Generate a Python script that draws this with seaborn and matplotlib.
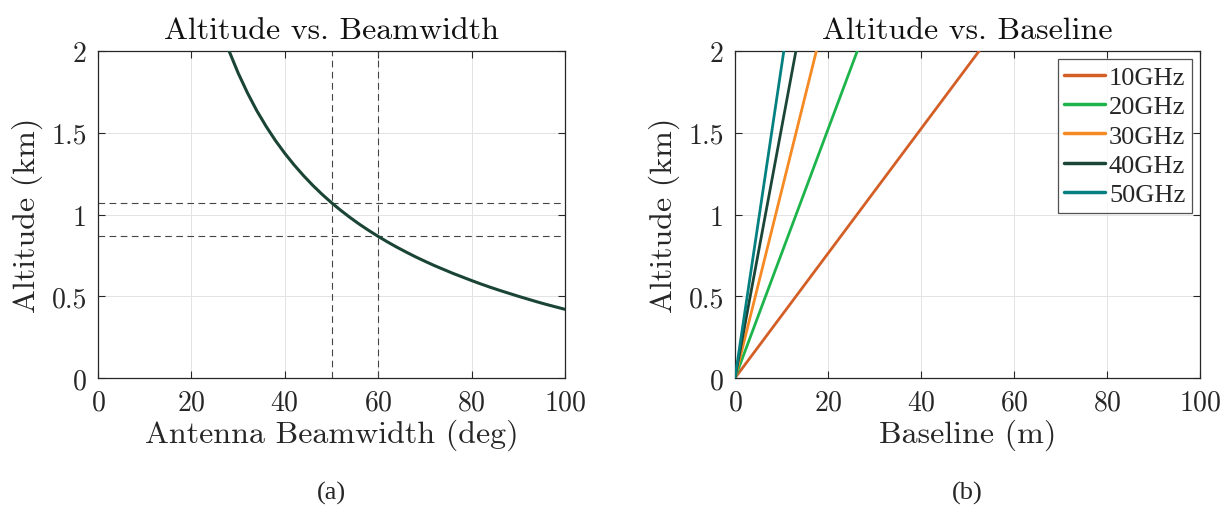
import matplotlib
matplotlib.use("Agg")
import matplotlib.pyplot as plt
import seaborn as sns
import pandas as pd

# Panel (a): altitude against antenna beamwidth
beamwidth_deg = [28, 30, 32, 34, 36, 38, 40, 42, 44, 46, 48, 50, 52, 54, 56, 58, 60,
                 62, 64, 66, 68, 70, 72, 74, 76, 78, 80, 82, 84, 86, 88, 90, 92, 94,
                 96, 98, 100]
altitude_a_km = [2.005, 1.866, 1.744, 1.635, 1.539, 1.452, 1.374, 1.303, 1.238, 1.178,
                 1.123, 1.072, 1.025, 0.981, 0.940, 0.902, 0.866, 0.832, 0.800, 0.770,
                 0.741, 0.714, 0.688, 0.664, 0.640, 0.618, 0.596, 0.575, 0.555, 0.536,
                 0.518, 0.500, 0.483, 0.466, 0.450, 0.435, 0.420]
ref_beamwidth = [50, 60]
ref_altitude = [1.072, 0.866]

# Panel (b): altitude against baseline, one line per carrier frequency
frequencies = ["10GHz", "20GHz", "30GHz", "40GHz", "50GHz"]
baseline_at_2km = [52.5, 26.3, 17.5, 13.1, 10.5]
altitude_b_km = [0.0, 2.0]
colors = ["#d35f27", "#1db44c", "#f58a24", "#1b4537", "#058080"]

rows = []
for f, b in zip(frequencies, baseline_at_2km):
    rows.append({"freq": f, "baseline": 0.0, "alt": altitude_b_km[0]})
    rows.append({"freq": f, "baseline": b, "alt": altitude_b_km[1]})
df_b = pd.DataFrame(rows)
df_a = pd.DataFrame({"bw": beamwidth_deg, "alt": altitude_a_km})

sns.set_style("ticks")
plt.rcParams["font.family"] = ["cmr10", "DejaVu Serif"]
plt.rcParams["axes.formatter.use_mathtext"] = True
plt.rcParams["mathtext.fontset"] = "cm"

fig = plt.figure(figsize=(12.27, 5.10), dpi=100)
W, H = 1227, 510
ax1 = fig.add_axes([98 / W, (H - 379) / H, (565 - 98) / W, (379 - 52) / H])
ax2 = fig.add_axes([735 / W, (H - 379) / H, (1200 - 735) / W, (379 - 52) / H])


def style_axes(ax, xlabel, title):
    ax.set_xlim(0, 100)
    ax.set_ylim(0, 2)
    ax.set_xticks([0, 20, 40, 60, 80, 100])
    ax.set_yticks([0, 0.5, 1, 1.5, 2])
    ax.set_yticklabels(["0", "0.5", "1", "1.5", "2"])
    ax.grid(True, color="#e3e3e3", linewidth=0.7)
    ax.set_axisbelow(True)
    for s in ax.spines.values():
        s.set_visible(True)
        s.set_color("#262626")
        s.set_linewidth(0.9)
    ax.tick_params(direction="in", length=5, width=0.8, top=True, right=True,
                   labelsize=20, colors="#262626", pad=8)
    ax.set_xlabel(xlabel, fontsize=23, color="#262626", labelpad=2)
    ax.set_ylabel("Altitude (km)", fontsize=23, color="#262626", labelpad=6)
    ax.set_title(title, fontsize=23, color="#111111", pad=9)


sns.lineplot(data=df_a, x="bw", y="alt", ax=ax1, color="#1a4535", linewidth=2.2,
             sort=False, zorder=3)
for xv in ref_beamwidth:
    ax1.axvline(xv, color="#444444", linestyle=(0, (6, 4)), linewidth=0.8, zorder=2)
for yv in ref_altitude:
    ax1.axhline(yv, color="#444444", linestyle=(0, (6, 4)), linewidth=0.8, zorder=2)
style_axes(ax1, "Antenna Beamwidth (deg)", "Altitude vs. Beamwidth")

sns.lineplot(data=df_b, x="baseline", y="alt", hue="freq", palette=colors, ax=ax2,
             linewidth=2.0, sort=False, zorder=3)
style_axes(ax2, "Baseline (m)", "Altitude vs. Baseline")
leg = ax2.legend(loc="upper right", frameon=True, fancybox=False, handlelength=1.55,
                 handletextpad=0.15, borderpad=0.25, labelspacing=0.22, borderaxespad=0.3,
                 prop={"family": ["Liberation Serif", "DejaVu Serif"], "size": 19})
leg.get_frame().set_edgecolor("#262626")
leg.get_frame().set_linewidth(0.9)
for line in leg.get_lines():
    line.set_linewidth(2.5)

fig.text((98 + 565) / 2 / W, 1 - 493 / H, "(a)", ha="center", va="center",
         fontsize=19, family=["Liberation Serif", "DejaVu Serif"])
fig.text((735 + 1200) / 2 / W, 1 - 493 / H, "(b)", ha="center", va="center",
         fontsize=19, family=["Liberation Serif", "DejaVu Serif"])

fig.savefig("out.png", dpi=100)
